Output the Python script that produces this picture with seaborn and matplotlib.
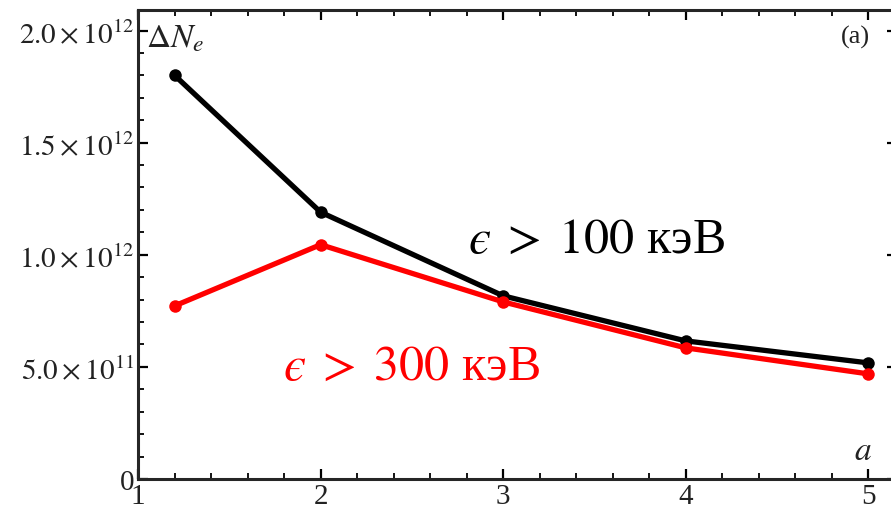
import matplotlib
matplotlib.use("Agg")
import matplotlib.pyplot as plt
import matplotlib.ticker as mticker
import numpy as np
import pandas as pd
import seaborn as sns

# Dependence of the electron number increment on parameter a
a_values = [1.2, 2, 3, 4, 5]
dn_100kev = [1.80e12, 1.19e12, 0.817e12, 0.616e12, 0.518e12]
dn_300kev = [0.772e12, 1.045e12, 0.79e12, 0.585e12, 0.469e12]
series_labels = ["$\u03f5\\;>\\;100$ кэВ", "$\u03f5\\;>\\;300$ кэВ"]
series_colors = ["black", "red"]
y_ticks = [0, 0.5e12, 1.0e12, 1.5e12, 2.0e12]
x_ticks = [1, 2, 3, 4, 5]

sns.set_style("ticks")
plt.rcParams["font.family"] = ["Liberation Serif", "DejaVu Serif"]
plt.rcParams["mathtext.fontset"] = "stix"

df = pd.DataFrame({
    "a": a_values * 2,
    "dN": dn_100kev + dn_300kev,
    "series": [series_labels[0]] * len(a_values) + [series_labels[1]] * len(a_values),
})

fig = plt.figure(figsize=(8.91, 5.10), dpi=100)
ax = fig.add_axes([0.155, 0.0588, 0.852, 0.919])

sns.lineplot(data=df, x="a", y="dN", hue="series", palette=series_colors,
             hue_order=series_labels, marker="o", markersize=9, linewidth=3.8,
             markeredgewidth=0, legend=False, ax=ax, zorder=3)

ax.set_xlim(1, 5.16)
ax.set_ylim(0, 2.09e12)
ax.set_xticks(x_ticks)
ax.set_yticks(y_ticks)
ax.xaxis.set_minor_locator(mticker.MultipleLocator(0.2))
ax.yaxis.set_minor_locator(mticker.MultipleLocator(0.1e12))


def sci_label(v, pos):
    if v == 0:
        return "0"
    exp = int(np.floor(np.log10(v)))
    mant = v / 10 ** exp
    return r"$%.1f\times10^{%d}$" % (mant, exp)


ax.yaxis.set_major_formatter(mticker.FuncFormatter(sci_label))
ax.tick_params(axis="both", which="both", direction="in", top=True, right=True,
               colors="black", labelcolor="#222222")
ax.tick_params(axis="both", which="major", length=7, width=1.6, labelsize=21, pad=3)
ax.tick_params(axis="both", which="minor", length=4, width=1.3)
for s in ax.spines.values():
    s.set_linewidth(2.2)
ax.set_xlabel("")
ax.set_ylabel("")

# Axis captions placed inside the frame
ax.text(0.010, 0.972, r"$\Delta N_e$", transform=ax.transAxes, fontsize=24,
        ha="left", va="top", color="#222222")
ax.text(0.964, 0.968, "(a)", transform=ax.transAxes, fontsize=19,
        ha="right", va="top", color="#222222")
ax.text(4.97, 0.06e12, r"$a$", fontsize=24, ha="center", va="bottom", color="#222222")

# Curve annotations
ax.text(3.51, 1.07e12, series_labels[0], fontsize=36, color="black",
        ha="center", va="center")
ax.text(2.50, 0.5e12, series_labels[1], fontsize=36, color="red",
        ha="center", va="center")

fig.savefig("out.png", dpi=100)
